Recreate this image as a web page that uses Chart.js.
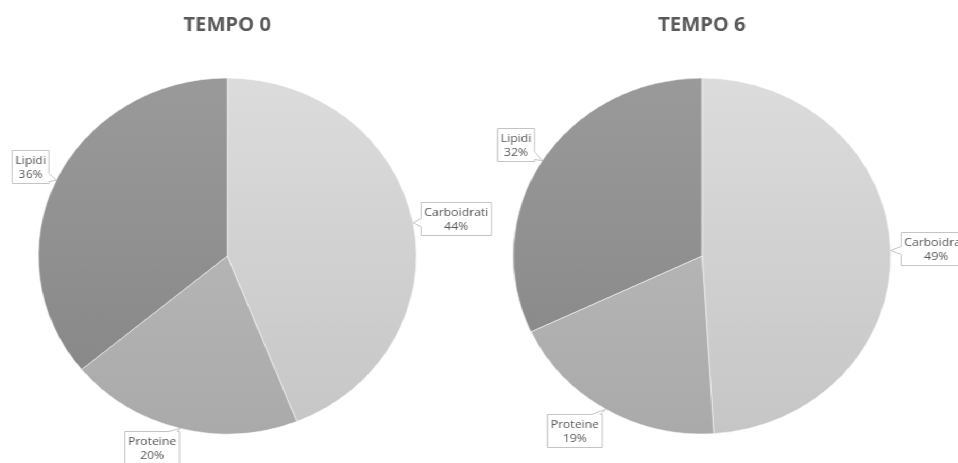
<!DOCTYPE html>
<html>
<head>
<meta charset="utf-8">
<script src="https://cdn.jsdelivr.net/npm/chart.js@4/dist/chart.umd.min.js"></script>
<style>
  html, body { margin: 0; padding: 0; background: #ffffff; }
  #stage { position: relative; width: 958px; height: 463px; overflow: hidden; }
  #wrap { position: absolute; left: 0; top: 0; width: 902px; height: 463px;
          transform: scaleX(1.062); transform-origin: 0 0; }
  canvas { position: absolute; top: 0; }
</style>
</head>
<body>
<div id="stage">
  <div id="wrap">
    <canvas id="c0" width="470" height="463" style="left:0px"></canvas>
    <canvas id="c6" width="455" height="463" style="left:447px"></canvas>
  </div>
</div>
<script>
// Composizione nutrizionale (%) ai due tempi
const categories = ['Carboidrati', 'Proteine', 'Lipidi'];
const tempo0 = [44, 20, 36];
const tempo6 = [49, 19, 32];
const titles = ['TEMPO 0', 'TEMPO 6'];

// grey shades per category: [top, bottom] of the vertical gradient
const shades = [
  ['#dcdcdc', '#c6c6c6'],
  ['#bfbfbf', '#aaaaaa'],
  ['#9a9a9a', '#858585']
];

const TEXT = '#595959';
const FONT = "'Open Sans', 'DejaVu Sans', sans-serif";

function sliceFill(ctx) {
  const chart = ctx.chart;
  const area = chart.chartArea;
  const s = shades[ctx.dataIndex % shades.length];
  if (!area) return s[0];
  const g = chart.ctx.createLinearGradient(0, area.top, 0, area.bottom);
  g.addColorStop(0, s[0]);
  g.addColorStop(1, s[1]);
  return g;
}

// callout box with a wedge pointing at the slice edge
function drawCallout(ctx, l, t, r, b, tx, ty) {
  const hw = 4, m = 2;
  const ex = Math.max(l - tx, tx - r, 0);
  const ey = Math.max(t - ty, ty - b, 0);
  let side;
  if (ey > 2) side = ty < t ? 'top' : 'bottom';
  else side = tx < l ? 'left' : 'right';
  const clamp = (v, a, z) => Math.max(a, Math.min(z, v));
  ctx.beginPath();
  ctx.moveTo(l, t);
  if (side === 'top') {
    const p = clamp(tx, l + m + hw, r - m - hw);
    ctx.lineTo(p - hw, t); ctx.lineTo(tx, ty); ctx.lineTo(p + hw, t);
  }
  ctx.lineTo(r, t);
  if (side === 'right') {
    const p = clamp(ty, t + m + hw, b - m - hw);
    ctx.lineTo(r, p - hw); ctx.lineTo(tx, ty); ctx.lineTo(r, p + hw);
  }
  ctx.lineTo(r, b);
  if (side === 'bottom') {
    const p = clamp(tx, l + m + hw, r - m - hw);
    ctx.lineTo(p + hw, b); ctx.lineTo(tx, ty); ctx.lineTo(p - hw, b);
  }
  ctx.lineTo(l, b);
  if (side === 'left') {
    const p = clamp(ty, t + m + hw, b - m - hw);
    ctx.lineTo(l, p + hw); ctx.lineTo(tx, ty); ctx.lineTo(l, p - hw);
  }
  ctx.closePath();
  ctx.fillStyle = '#ffffff';
  ctx.fill();
  ctx.strokeStyle = '#c4c4c4';
  ctx.lineWidth = 1;
  ctx.stroke();
}

const calloutPlugin = {
  id: 'callouts',
  afterDatasetsDraw(chart, args, opts) {
    const ctx = chart.ctx;
    const meta = chart.getDatasetMeta(0);
    const values = chart.data.datasets[0].data;
    const total = values.reduce((a, v) => a + v, 0);
    ctx.save();
    ctx.font = '11.5px ' + FONT;
    ctx.textAlign = 'center';
    ctx.textBaseline = 'middle';
    meta.data.forEach((arc, i) => {
      const p = arc.getProps(['x', 'y', 'startAngle', 'endAngle', 'outerRadius'], true);
      const mid = (p.startAngle + p.endAngle) / 2;
      const ax = p.x + Math.cos(mid) * p.outerRadius;
      const ay = p.y + Math.sin(mid) * p.outerRadius;
      const off = opts.offsets[i];
      const cx = ax + off[0], cy = ay + off[1];
      const lines = [chart.data.labels[i], Math.round(values[i] / total * 100) + '%'];
      const w = Math.max(...lines.map(s => ctx.measureText(s).width)) + 6;
      const lh = 14;
      const h = lines.length * lh + 5;
      const l = Math.round(cx - w / 2) + 0.5, t = Math.round(cy - h / 2) + 0.5;
      drawCallout(ctx, l, t, l + w, t + h, ax, ay);
      ctx.fillStyle = TEXT;
      lines.forEach((s, k) => ctx.fillText(s, l + w / 2, t + 3 + lh * (k + 0.5)));
    });
    ctx.restore();
  }
};

function makePie(id, title, values, padRight, offsets) {
  return new Chart(document.getElementById(id), {
    type: 'pie',
    data: {
      labels: categories,
      datasets: [{
        data: values,
        backgroundColor: sliceFill,
        borderColor: 'rgba(255,255,255,0.55)',
        borderWidth: 1,
        radius: 178
      }]
    },
    options: {
      responsive: false,
      animation: false,
      events: [],
      devicePixelRatio: 1,
      layout: { padding: { top: 10, bottom: 29, left: 0, right: padRight } },
      plugins: {
        legend: { display: false },
        tooltip: { enabled: false },
        title: {
          display: true,
          text: title,
          color: TEXT,
          font: { family: FONT, size: 19, weight: 'bold', lineHeight: 1.2 },
          padding: { top: 4, bottom: 41.2 }
        },
        callouts: { offsets: offsets }
      }
    },
    plugins: [calloutPlugin]
  });
}

makePie('c0', titles[0], tempo0, 42, [[40.5, -4.6], [-26.6, 19.5], [-24.7, -14]]);
makePie('c6', titles[1], tempo6, 27, [[42.5, -2.4], [-29.9, 21.7], [-25.8, -16.6]]);
</script>
</body>
</html>
